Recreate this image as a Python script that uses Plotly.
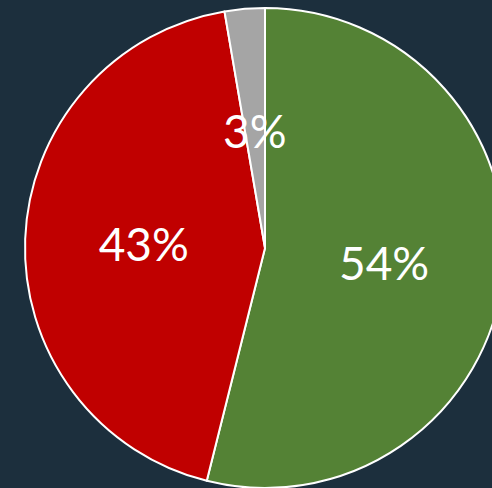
import math
import plotly.graph_objects as go

categories = ["Green", "Red", "Gray"]
values = [53.9, 43.4, 2.7]
colors = ["#548235", "#C00000", "#A5A5A5"]

W, H = 506, 488
dom_x = [25 / W, 505 / W]
dom_y = [0, 480 / H]
FONT = dict(family="Lato, Open Sans, sans-serif", size=46, color="white")

fig = go.Figure(go.Pie(
    labels=categories,
    values=values,
    sort=False,
    direction="clockwise",
    rotation=0,
    marker=dict(colors=colors, line=dict(color="white", width=2)),
    texttemplate=["%{percent:.0%}", "%{percent:.0%}", ""],
    textposition="inside",
    insidetextorientation="horizontal",
    textfont=FONT,
    showlegend=False,
    hoverinfo="skip",
    domain=dict(x=dom_x, y=dom_y),
))

# label for the thin slice, placed along its mid-angle
total = sum(values)
mid = (sum(values[:2]) + values[2] / 2) / total * 2 * math.pi
cx = (dom_x[0] + dom_x[1]) / 2
cy = (dom_y[0] + dom_y[1]) / 2
rx = (dom_x[1] - dom_x[0]) / 2
ry = (dom_y[1] - dom_y[0]) / 2
frac = 0.49
fig.add_annotation(
    x=cx + frac * rx * math.sin(mid), y=cy + frac * ry * math.cos(mid),
    xref="paper", yref="paper", showarrow=False,
    xanchor="center", yanchor="middle",
    text=f"{round(values[2] / total * 100)}%", font=FONT,
)

fig.update_layout(
    width=W, height=H,
    margin=dict(l=0, r=0, t=0, b=0),
    paper_bgcolor="#1c2f3d",
    plot_bgcolor="#1c2f3d",
    uniformtext=dict(minsize=46, mode="show"),
)
fig.write_html("out.html", config={"displayModeBar": False},
               post_script="document.body.style.margin='0';document.body.style.overflow='hidden';")
